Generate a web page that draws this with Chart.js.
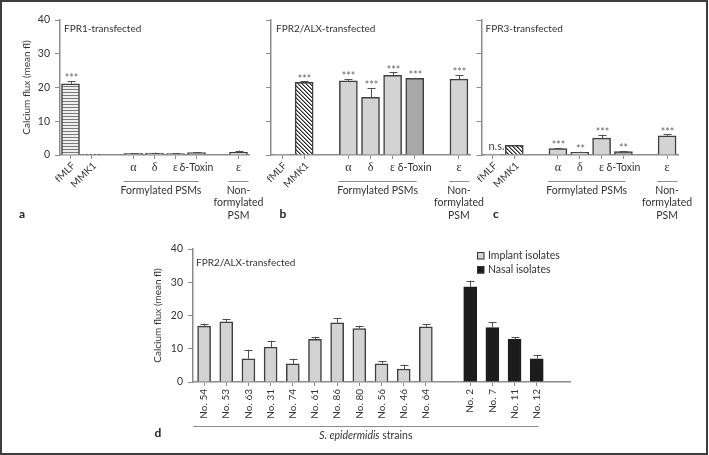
<!DOCTYPE html>
<html>
<head>
<meta charset="utf-8">
<script src="https://cdn.jsdelivr.net/npm/chart.js@4.4.1/dist/chart.umd.min.js"></script>
<style>
  body { margin: 0; background: #fff; }
  #fig { position: relative; width: 709px; height: 455px; overflow: hidden; }
  canvas { position: absolute; }
  #frame { position: absolute; left: 0; top: 0; width: 704px; height: 451px; border: 2px solid #3d3d3d; }
</style>
</head>
<body>
<div id="fig">
  <canvas id="chartA" width="270" height="230" style="left:0;top:0;width:270px;height:230px"></canvas>
  <canvas id="chartB" width="240" height="230" style="left:250px;top:0;width:240px;height:230px"></canvas>
  <canvas id="chartC" width="239" height="230" style="left:470px;top:0;width:239px;height:230px"></canvas>
  <canvas id="chartD" width="709" height="222" style="left:0;top:230px;width:709px;height:222px"></canvas>
  <div id="frame"></div>
</div>
<script>
// panels a-c: peptides tested on the three receptors ('' = gap between groups)
const psmCategories = ['fMLF', 'MMK1', '', 'α', 'δ', 'ε', 'δ-Toxin', '', 'ε'];
const rotatedLabels = ['fMLF', 'MMK1'];

const fpr1Means  = [21.1, 0.1, null, 0.5, 0.6, 0.4, 0.7, null, 0.8];
const fpr1Errors = [0.8, 0, null, 0.1, 0.1, 0.1, 0.1, null, 0.5];
const fpr1Marks  = ['***', '', '', '', '', '', '', '', ''];

const fpr2Means  = [0.1, 21.5, null, 22.0, 17.1, 23.6, 22.7, null, 22.5];
const fpr2Errors = [0, 0.3, null, 0.5, 2.8, 0.9, 0.2, null, 1.2];
const fpr2Marks  = ['', '***', '', '***', '***', '***', '***', '', '***'];

const fpr3Means  = [0.3, 2.9, null, 1.9, 0.8, 5.0, 1.0, null, 5.7];
const fpr3Errors = [0, 0, null, 0.2, 0.2, 1.0, 0.2, null, 0.4];
const fpr3Marks  = ['n.s.', '', '', '***', '**', '***', '**', '', '***'];

// panel d: S. epidermidis strains on FPR2/ALX
const implantStrains = ['No. 54', 'No. 53', 'No. 63', 'No. 31', 'No. 74', 'No. 61', 'No. 86', 'No. 80', 'No. 56', 'No. 46', 'No. 64'];
const implantMeans   = [16.8, 18.1, 7.0, 10.5, 5.5, 12.8, 17.8, 16.1, 5.5, 3.9, 16.6];
const implantErrors  = [0.7, 0.9, 2.7, 1.9, 1.5, 0.8, 1.3, 0.8, 0.8, 1.3, 0.7];
const nasalStrains = ['No. 2', 'No. 7', 'No. 11', 'No. 12'];
const nasalMeans   = [28.6, 16.4, 12.8, 7.0];
const nasalErrors  = [1.9, 1.5, 0.6, 1.2];

const yTicks = [0, 10, 20, 30, 40];
const yTitle = 'Calcium flux (mean fl)';

Chart.defaults.font.family = 'Lato';
Chart.defaults.font.size = 10;
Chart.defaults.color = '#333';

const AXIS = '#8c8c8c';
const TEXT = '#333';

function makePattern(w, h, draw) {
  const c = document.createElement('canvas');
  c.width = w; c.height = h;
  const g = c.getContext('2d');
  draw(g);
  return g.createPattern(c, 'repeat');
}
const stripes = makePattern(4, 3, g => {
  g.fillStyle = '#eeeeee'; g.fillRect(0, 0, 4, 3);
  g.fillStyle = '#7a7a7a'; g.fillRect(0, 2, 4, 1);
});
const hatch = makePattern(4, 4, g => {
  g.fillStyle = '#ffffff'; g.fillRect(0, 0, 4, 4);
  g.fillStyle = '#2a2a2a';
  for (let i = 0; i < 4; i++) g.fillRect(i, i, 1, 1);
  g.fillStyle = '#8a8a8a';
  for (let i = 0; i < 4; i++) g.fillRect((i + 1) % 4, i, 1, 1);
});

// error bars, significance marks, labels and other bits
const panelDecor = {
  id: 'panelDecor',
  afterDraw(chart, args, o) {
    const ctx = chart.ctx;
    const area = chart.chartArea;
    const xs = chart.scales.x, ys = chart.scales.y;
    ctx.save();

    // error bars + marks
    chart.data.datasets.forEach((ds, di) => {
      const errs = o.errors[di];
      const marks = o.marks ? o.marks[di] : null;
      ds.data.forEach((v, i) => {
        if (v == null) return;
        const px = Math.round(xs.getPixelForValue(i)) + 0.5;
        const e = errs[i] || 0;
        const top = ys.getPixelForValue(v + e);
        if (e > 0) {
          ctx.strokeStyle = '#505050';
          ctx.lineWidth = 1;
          ctx.beginPath();
          ctx.moveTo(px, ys.getPixelForValue(v));
          ctx.lineTo(px, top);
          ctx.moveTo(px - 4, Math.round(top) + 0.5);
          ctx.lineTo(px + 4, Math.round(top) + 0.5);
          ctx.stroke();
        }
        const m = marks && marks[i];
        if (m) {
          ctx.textAlign = 'center';
          ctx.textBaseline = 'middle';
          if (m === 'n.s.') {
            ctx.font = '11px Lato';
            ctx.fillStyle = '#444';
            ctx.fillText(m, px + 4, top - 8);
          } else {
            ctx.font = '10.5px Lato';
            ctx.fillStyle = '#666';
            ctx.fillText(m, px, top - 2);
          }
        }
      });
    });

    // panel title
    ctx.fillStyle = TEXT;
    ctx.font = '10px Lato';
    ctx.textAlign = 'left';
    ctx.textBaseline = 'middle';
    ctx.fillText(o.title, area.left + o.titleDx, area.top + o.titleDy);

    // panel letter
    ctx.font = 'bold 12px Lato';
    ctx.fillStyle = '#222';
    ctx.textAlign = 'center';
    ctx.fillText(o.letter, o.letterX, o.letterY);

    ctx.fillStyle = TEXT;
    // category labels for a-c
    if (o.psm) {
      psmCategories.forEach((lab, i) => {
        if (!lab) return;
        const px = xs.getPixelForValue(i);
        if (rotatedLabels.includes(lab)) {
          ctx.save();
          ctx.translate(px + 3, area.bottom + 9);
          ctx.rotate(-Math.PI / 4);
          ctx.font = '10px Lato';
          ctx.textAlign = 'right';
          ctx.textBaseline = 'middle';
          ctx.fillText(lab, 0, 0);
          ctx.restore();
        } else {
          ctx.font = lab.length === 1 ? '12px "Liberation Serif"' : '10.5px Lato';
          ctx.textAlign = 'center';
          ctx.textBaseline = 'middle';
          ctx.fillText(lab, px, area.bottom + 13);
        }
      });
    }

    // group lines with captions
    (o.groups || []).forEach(g => {
      const x0 = xs.getPixelForValue(g.first) - 10;
      const x1 = xs.getPixelForValue(g.last) + (g.first === g.last ? 10 : 2);
      const ly = Math.round(area.bottom + g.dy) + 0.5;
      ctx.strokeStyle = AXIS;
      ctx.lineWidth = 1;
      ctx.beginPath();
      ctx.moveTo(g.fromAxis ? area.left : x0, ly);
      ctx.lineTo(x1, ly);
      ctx.stroke();
      const cx = ((g.fromAxis ? area.left : x0) + x1) / 2;
      ctx.textBaseline = 'middle';
      g.lines.forEach((t, k) => {
        const ty = ly + 9 + k * 12.5;
        if (g.italic) {
          ctx.font = 'italic 10.5px Lato';
          const w1 = ctx.measureText(g.italic).width;
          ctx.font = '10.5px Lato';
          const w2 = ctx.measureText(t).width;
          const sx = cx - (w1 + w2) / 2;
          ctx.textAlign = 'left';
          ctx.font = 'italic 10.5px Lato';
          ctx.fillText(g.italic, sx, ty);
          ctx.font = '10.5px Lato';
          ctx.fillText(t, sx + w1, ty);
        } else {
          ctx.font = '10.5px Lato';
          ctx.textAlign = 'center';
          ctx.fillText(t, cx, ty);
        }
      });
    });

    // legend for d
    if (o.legend) {
      chart.data.datasets.forEach((ds, di) => {
        const ly = o.legend.y + di * 14;
        ctx.fillStyle = ds.backgroundColor;
        ctx.fillRect(o.legend.x, ly - 3.5, 7, 7);
        ctx.strokeStyle = '#333';
        ctx.lineWidth = 1;
        ctx.strokeRect(o.legend.x + 0.5, ly - 3.5, 6.5, 6.5);
        ctx.fillStyle = TEXT;
        ctx.font = '10.5px Lato';
        ctx.textAlign = 'left';
        ctx.textBaseline = 'middle';
        ctx.fillText(ds.label, o.legend.x + 11, ly);
      });
    }
    ctx.restore();
  }
};

function yScale(showLabels, width) {
  return {
    min: 0, max: 40,
    afterBuildTicks: s => { s.ticks = yTicks.map(v => ({ value: v })); },
    ticks: { display: showLabels, padding: 5, color: TEXT, font: { size: 10.5 } },
    title: { display: showLabels, text: yTitle, color: TEXT, font: { size: 10 }, padding: { top: 4, bottom: 4 } },
    grid: { display: true, drawOnChartArea: false, drawTicks: true, tickLength: 5, color: AXIS, lineWidth: 1 },
    border: { display: true, color: AXIS, width: 1.5 },
    afterFit: s => { s.width = width; }
  };
}

function xGrid(cats) {
  return {
    display: true, offset: false, drawOnChartArea: false, drawTicks: true, tickLength: 4,
    color: c => (cats[c.index] ? AXIS : 'rgba(0,0,0,0)'), lineWidth: 1
  };
}

const psmGroups = [
  { lines: ['Formylated PSMs'], first: 3, last: 6, dy: 26 },
  { lines: ['Non-', 'formylated', 'PSM'], first: 8, last: 8, dy: 26 }
];

function psmChart(id, means, errors, marks, cfg) {
  const fills = psmCategories.map(lab =>
    lab === 'fMLF' ? stripes : lab === 'MMK1' ? hatch : lab === 'δ-Toxin' ? '#a8a8a8' : '#d3d3d3');
  return new Chart(document.getElementById(id), {
    type: 'bar',
    data: {
      labels: psmCategories,
      datasets: [{ data: means, backgroundColor: fills, borderColor: '#3f3f3f', borderWidth: 1.5, barThickness: 18 }]
    },
    options: {
      responsive: false,
      animation: false,
      layout: { padding: cfg.padding },
      plugins: {
        legend: { display: false },
        tooltip: { enabled: false },
        panelDecor: {
          errors: [errors], marks: [marks], psm: true, groups: psmGroups,
          title: cfg.title, titleDx: cfg.titleDx, titleDy: 9,
          letter: cfg.letter, letterX: cfg.letterX, letterY: 214
        }
      },
      scales: {
        x: {
          ticks: { display: false },
          grid: xGrid(psmCategories),
          border: { display: true, color: AXIS, width: 1.5 },
          afterFit: s => { s.height = 75; }
        },
        y: yScale(cfg.showY, cfg.yWidth)
      }
    },
    plugins: [panelDecor]
  });
}

psmChart('chartA', fpr1Means, fpr1Errors, fpr1Marks, {
  padding: { left: 17, top: 20, right: 21, bottom: 0 }, yWidth: 43, showY: true,
  title: 'FPR1-transfected', titleDx: 4, letter: 'a', letterX: 22
});
psmChart('chartB', fpr2Means, fpr2Errors, fpr2Marks, {
  padding: { left: 15, top: 20, right: 20, bottom: 0 }, yWidth: 6, showY: false,
  title: 'FPR2/ALX-transfected', titleDx: 5, letter: 'b', letterX: 33
});
psmChart('chartC', fpr3Means, fpr3Errors, fpr3Marks, {
  padding: { left: 5.5, top: 20, right: 31, bottom: 0 }, yWidth: 6, showY: false,
  title: 'FPR3-transfected', titleDx: 4, letter: 'c', letterX: 26
});

// panel d
const strainCategories = [...implantStrains, '', ...nasalStrains, ''];
const implantData = [...implantMeans, null, ...nasalStrains.map(() => null), null];
const nasalData = [...implantStrains.map(() => null), null, ...nasalMeans, null];
const implantErr = [...implantErrors, null, ...nasalStrains.map(() => null), null];
const nasalErr = [...implantStrains.map(() => null), null, ...nasalErrors, null];

new Chart(document.getElementById('chartD'), {
  type: 'bar',
  data: {
    labels: strainCategories,
    datasets: [
      { label: 'Implant isolates', data: implantData, backgroundColor: '#d3d3d3', borderColor: '#3f3f3f',
        borderWidth: 1.5, barThickness: 13, grouped: false },
      { label: 'Nasal isolates', data: nasalData, backgroundColor: '#1c1c1c', borderColor: '#1c1c1c',
        borderWidth: 1.5, barThickness: 13, grouped: false }
    ]
  },
  options: {
    responsive: false,
    animation: false,
    layout: { padding: { left: 148, top: 19, right: 139, bottom: 0 } },
    plugins: {
      legend: { display: false },
      tooltip: { enabled: false },
      panelDecor: {
        errors: [implantErr, nasalErr],
        title: 'FPR2/ALX-transfected', titleDx: 3, titleDy: 14,
        letter: 'd', letterX: 158, letterY: 203,
        groups: [{ lines: [' strains'], italic: 'S. epidermidis', first: 0,
                   last: implantStrains.length + nasalStrains.length, dy: 44, fromAxis: true }],
        legend: { x: 477, y: 26 }
      }
    },
    scales: {
      x: {
        ticks: { display: true, autoSkip: false, minRotation: 90, maxRotation: 90, padding: 3,
                 color: TEXT, font: { size: 10 } },
        grid: xGrid(strainCategories),
        border: { display: true, color: AXIS, width: 1.5 },
        afterFit: s => { s.height = 70; }
      },
      y: yScale(true, 45)
    }
  },
  plugins: [panelDecor]
});
</script>
</body>
</html>
